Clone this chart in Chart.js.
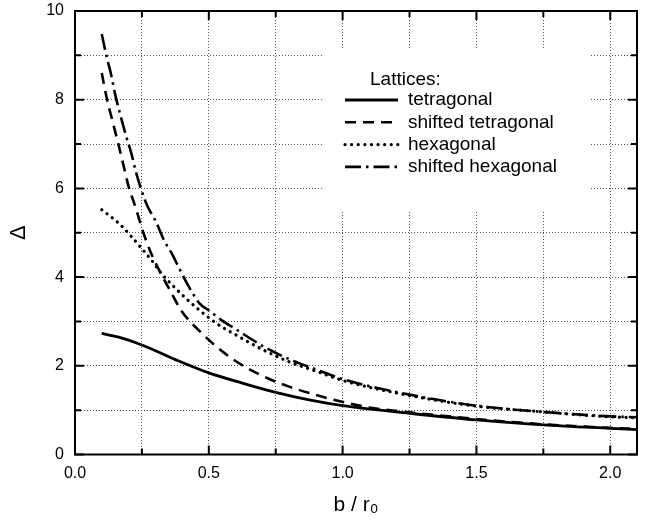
<!DOCTYPE html>
<html>
<head>
<meta charset="utf-8">
<script src="https://cdn.jsdelivr.net/npm/chart.js@4.4.0/dist/chart.umd.min.js"></script>
<style>
  html, body { margin: 0; padding: 0; background: #fff; }
  #wrap { width: 647px; height: 522px; }
</style>
</head>
<body>
<div id="wrap"><canvas id="chart"></canvas></div>
<script>
// --- Data ---
const tetraX = [0.1, 0.16, 0.25, 0.375, 0.5, 0.625, 0.75, 0.875, 1.0, 1.25, 1.5, 1.75, 2.0, 2.1];
const tetraY = [2.73, 2.65, 2.47, 2.14, 1.84, 1.61, 1.40, 1.23, 1.10, 0.93, 0.78, 0.67, 0.59, 0.56];

const shTetraX = [0.1, 0.12, 0.14, 0.16, 0.18, 0.2, 0.227, 0.25, 0.28, 0.315, 0.355, 0.4, 0.48, 0.56, 0.64, 0.72, 0.8, 0.885, 0.97, 1.1, 1.25, 1.5, 1.75, 2.0, 2.1];
const shTetraY = [8.6, 8.0, 7.52, 7.05, 6.55, 6.05, 5.56, 5.1, 4.6, 4.15, 3.7, 3.22, 2.7, 2.28, 1.96, 1.72, 1.53, 1.37, 1.23, 1.06, 0.95, 0.8, 0.68, 0.6, 0.57];

const hexX = [0.1, 0.168, 0.21, 0.25, 0.286, 0.323, 0.367, 0.413, 0.46, 0.53, 0.6, 0.7, 0.8, 0.9, 1.0, 1.25, 1.5, 1.75, 2.0, 2.1];
const hexY = [5.52, 5.19, 4.92, 4.64, 4.38, 4.08, 3.8, 3.53, 3.28, 2.95, 2.7, 2.37, 2.09, 1.88, 1.67, 1.33, 1.09, 0.96, 0.85, 0.83];

const shHexX = [0.1, 0.12, 0.133, 0.15, 0.17, 0.19, 0.21, 0.23, 0.25, 0.27, 0.3, 0.336, 0.36, 0.39, 0.42, 0.466, 0.5, 0.55, 0.6, 0.7, 0.8, 0.9, 1.0, 1.25, 1.5, 1.75, 2.0, 2.1];
const shHexY = [9.48, 8.92, 8.62, 8.12, 7.64, 7.2, 6.8, 6.32, 5.93, 5.61, 5.28, 4.79, 4.55, 4.19, 3.84, 3.4, 3.25, 3.02, 2.83, 2.45, 2.15, 1.92, 1.7, 1.35, 1.1, 0.96, 0.86, 0.84];

const seriesNames = ["tetragonal", "shifted tetragonal", "hexagonal", "shifted hexagonal"];
const legendTitle = "Lattices:";
const xTitle = "b / r\u2080";
const yTitle = "\u0394";

const FONT = "'Liberation Sans', Arial, Helvetica, sans-serif";

function pts(xs, ys) {
  return xs.map((x, i) => ({ x: x, y: ys[i] }));
}

// --- Plugins: legend box inside plot, frame with inward ticks ---
const insideLegend = {
  id: "insideLegend",
  beforeDatasetsDraw(chart) {
    const { ctx, chartArea: a } = chart;
    const bx = a.left + 247, by = a.top + 37;
    ctx.save();
    ctx.fillStyle = "#fff";
    ctx.fillRect(bx, by, 268, 164);
    ctx.fillStyle = "#000";
    ctx.font = "19px " + FONT;
    ctx.textBaseline = "middle";
    ctx.fillText(legendTitle, a.left + 295, a.top + 69);
    chart.data.datasets.forEach((ds, i) => {
      const y = a.top + 89 + i * 22.3;
      ctx.beginPath();
      ctx.lineWidth = ds.borderWidth;
      ctx.strokeStyle = ds.borderColor;
      ctx.lineCap = ds.borderCapStyle || "butt";
      ctx.setLineDash(ds.borderDash || []);
      ctx.moveTo(a.left + 270, y);
      ctx.lineTo(a.left + 323, y);
      ctx.stroke();
      ctx.setLineDash([]);
      ctx.fillText(ds.label, a.left + 333, y);
    });
    ctx.restore();
  }
};

const frameTicks = {
  id: "frameTicks",
  afterDraw(chart) {
    const { ctx, chartArea: a, scales } = chart;
    ctx.save();
    ctx.strokeStyle = "#000";
    ctx.lineWidth = 2;
    ctx.setLineDash([]);
    ctx.strokeRect(a.left, a.top, a.right - a.left, a.bottom - a.top);
    ctx.beginPath();
    scales.x.ticks.forEach(t => {
      const px = scales.x.getPixelForValue(t.value);
      const major = Math.abs(t.value * 2 - Math.round(t.value * 2)) < 1e-6;
      const len = major ? 9 : 6;
      ctx.moveTo(px, a.bottom); ctx.lineTo(px, a.bottom - len);
      ctx.moveTo(px, a.top); ctx.lineTo(px, a.top + len);
    });
    scales.y.ticks.forEach(t => {
      const py = scales.y.getPixelForValue(t.value);
      const major = Math.round(t.value) % 2 === 0;
      const len = major ? 9 : 6;
      ctx.moveTo(a.left, py); ctx.lineTo(a.left + len, py);
      ctx.moveTo(a.right, py); ctx.lineTo(a.right - len, py);
    });
    ctx.stroke();
    ctx.restore();
  }
};

const common = { borderColor: "#000", borderWidth: 2.6, pointRadius: 0, showLine: true, fill: false, cubicInterpolationMode: "monotone" };

new Chart(document.getElementById("chart"), {
  type: "scatter",
  data: {
    datasets: [
      { ...common, label: seriesNames[0], data: pts(tetraX, tetraY), borderWidth: 2.8 },
      { ...common, label: seriesNames[1], data: pts(shTetraX, shTetraY), borderDash: [11, 7] },
      { ...common, label: seriesNames[2], data: pts(hexX, hexY), borderDash: [0.1, 6.5], borderCapStyle: "round", borderWidth: 3.2 },
      { ...common, label: seriesNames[3], data: pts(shHexX, shHexY), borderDash: [16, 5, 2.5, 5] }
    ]
  },
  options: {
    responsive: true,
    maintainAspectRatio: false,
    animation: false,
    devicePixelRatio: 1,
    layout: { padding: { top: 11, right: 10, left: 0, bottom: 0 } },
    plugins: { legend: { display: false }, tooltip: { enabled: false } },
    scales: {
      x: {
        type: "linear",
        min: 0, max: 2.1,
        afterFit: s => { s.height = 67.5; s.paddingLeft = 0; s.paddingRight = 0; },
        ticks: {
          stepSize: 0.25,
          includeBounds: false,
          padding: 9,
          color: "#000",
          font: { family: FONT, size: 16 },
          maxRotation: 0,
          autoSkip: false,
          callback: v => (Math.abs(v * 2 - Math.round(v * 2)) < 1e-6 ? v.toFixed(1) : "")
        },
        grid: { color: "#555", lineWidth: 1, drawTicks: false },
        border: { display: false, dash: [1, 2] },
        title: { display: true, text: xTitle, color: "#000", font: { family: FONT, size: 21 }, padding: { top: 4, bottom: 4 } }
      },
      y: {
        type: "linear",
        min: 0, max: 10,
        afterFit: s => { s.width = 75; s.paddingTop = 0; s.paddingBottom = 0; },
        ticks: {
          stepSize: 1,
          padding: 11,
          color: "#000",
          font: { family: FONT, size: 16 },
          autoSkip: false,
          callback: v => (Math.round(v) % 2 === 0 ? String(v) : "")
        },
        grid: { color: "#555", lineWidth: 1, drawTicks: false },
        border: { display: false, dash: [1, 2] },
        title: { display: true, text: yTitle, color: "#000", font: { family: FONT, size: 22 }, padding: { top: 6, bottom: 0 } }
      }
    }
  },
  plugins: [insideLegend, frameTicks]
});
</script>
</body>
</html>
